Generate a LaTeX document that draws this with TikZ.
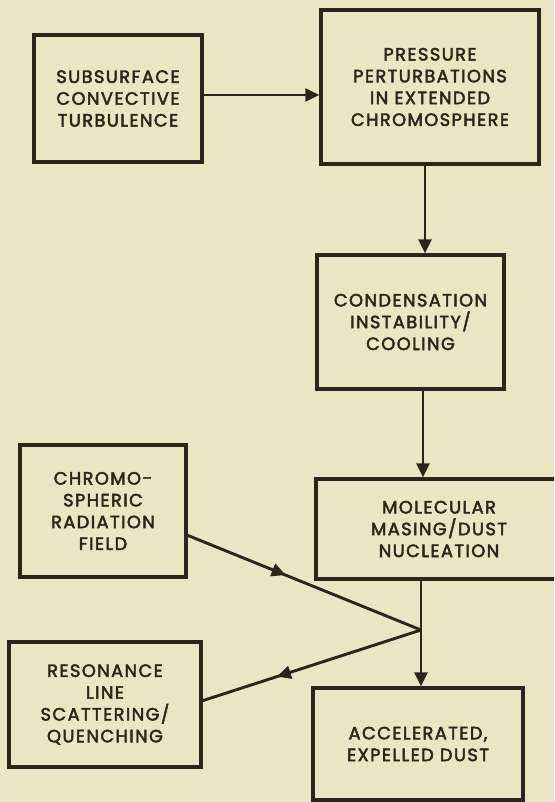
\documentclass[tikz,border=0pt]{standalone}
\usepackage{fontspec}
\setmainfont{Poppins}[FakeBold=2.6,UprightFeatures={FakeBold=2.6},LetterSpace=8]
\usetikzlibrary{arrows.meta,decorations.markings,calc}
\definecolor{paper}{RGB}{234,230,196}
\definecolor{ink}{RGB}{44,38,26}
\tikzset{
  box/.style={draw=ink, line width=3.4pt, fill=none, text=ink, align=center,
    font=\fontsize{17.8}{21.8}\selectfont, inner sep=0pt},
  conn/.style={draw=ink, line width=2.9pt},
  arr/.style={conn, -{Triangle[length=14pt,width=13pt]}},
  midarr/.style={conn, postaction={decorate}, decoration={markings,
    mark=at position #1 with {\arrow{Triangle[length=14pt,width=13pt]}}}}
}
\begin{document}
\begin{tikzpicture}[x=1pt,y=-1pt]
\fill[paper] (0,0) rectangle (554,802);
\clip (0,0) rectangle (554,802);
% boxes (centre, size)
\node[box, minimum width=168pt, minimum height=127pt] (A) at (118,98.5)
  {SUBSURFACE\\CONVECTIVE\\TURBULENCE};
\node[box, minimum width=218pt, minimum height=154pt] (B) at (430,87)
  {PRESSURE\\PERTURBATIONS\\IN EXTENDED\\CHROMOSPHERE};
\node[box, minimum width=187pt, minimum height=134pt] (C) at (410.5,322)
  {CONDENSATION\\INSTABILITY/\\COOLING};
\node[box, minimum width=246pt, minimum height=100pt] (D) at (439,529)
  {MOLECULAR\\MASING/DUST\\NUCLEATION};
\node[box, minimum width=210pt, minimum height=112pt] (E) at (418,744)
  {ACCELERATED,\\EXPELLED DUST};
\node[box, minimum width=166pt, minimum height=132pt] (F) at (103,511)
  {CHROMO-\\SPHERIC\\RADIATION\\FIELD};
\node[box, minimum width=192pt, minimum height=125pt] (G) at (105,704.5)
  {RESONANCE\\LINE\\SCATTERING/\\QUENCHING};
% guide coordinates
\coordinate (xb) at (425,0);
\coordinate (xc) at (423,0);
\coordinate (j) at (421,630);
\coordinate (ya) at (0,95);
% connectors
\draw[arr] (A.east |- ya) -- (B.west |- ya);
\draw[arr] (B.south -| xb) -- (C.north -| xb);
\draw[arr] (C.south -| xc) -- (D.north -| xc);
\draw[arr] (D.south -| j) -- (E.north -| j);
\draw[midarr=0.42] ($(F.south east)!0.32!(F.north east)$) -- (j);
\draw[midarr=0.66] (j) -- ($(G.south east)!0.53!(G.north east)$);
\end{tikzpicture}
\end{document}
